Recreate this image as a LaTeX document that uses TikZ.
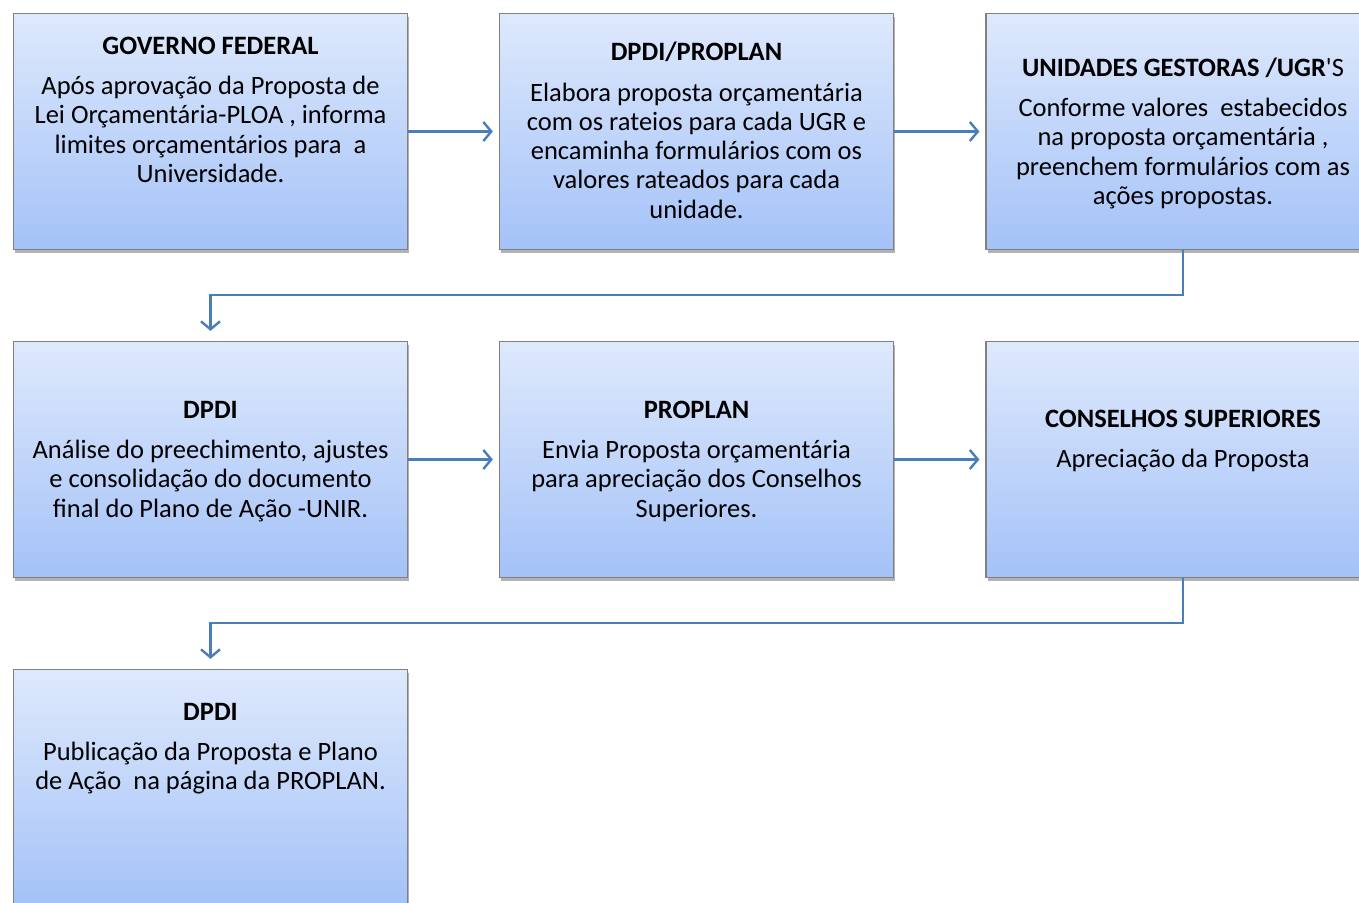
\documentclass[tikz,border=0pt]{standalone}
\usepackage{fontspec}
\setmainfont{Carlito}
\newfontfamily\plainfont{Carlito}[Ligatures=TeXOff]
\usetikzlibrary{shadows,arrows.meta}
\definecolor{boxtop}{RGB}{222,233,252}
\definecolor{boxbot}{RGB}{164,194,248}
\definecolor{edgegray}{RGB}{128,128,128}
\definecolor{conncol}{RGB}{74,126,187}
\tikzset{
  stepbox/.style={draw=edgegray, line width=1.2pt, top color=boxtop, bottom color=boxbot,
    minimum width=394pt, minimum height=236pt, inner sep=0pt,
    drop shadow={shadow xshift=1.5pt, shadow yshift=-3pt, opacity=0.3, fill=black}},
  txt/.style={font=\fontsize{26.5}{29.3}\selectfont, align=center, anchor=base, inner sep=0pt},
  conn/.style={draw=conncol, line width=2.4pt,
    -{Straight Barb[length=8pt, width=19pt, line width=2.4pt]}},
}
\begin{document}
\begin{tikzpicture}[x=1pt, y=-1pt]
\useasboundingbox (0,0) rectangle (1359,902);
% boxes
\node[stepbox] (b1) at (210.5,131.5) {};
\node[stepbox] (b2) at (696.5,131.5) {};
\node[stepbox] (b3) at (1183,131.5) {};
\node[stepbox] (b4) at (210.5,459.5) {};
\node[stepbox] (b5) at (696.5,459.5) {};
\node[stepbox] (b6) at (1183,459.5) {};
\node[stepbox] (b7) at (210.5,787.5) {};
% texts (anchored at the baseline of their last line)
\node[txt] (t1) at (210.5,182.4) {\textbf{GOVERNO FEDERAL}\\[11.2pt]
  Após aprovação da Proposta de\\ Lei Orçamentária-PLOA , informa\\ limites orçamentários para\ \ a\\ Universidade.};
\node[txt] (t2) at (696.5,218.2) {\textbf{DPDI/PROPLAN}\\[11.2pt]
  Elabora proposta orçamentária\\ com os rateios para cada UGR e\\ encaminha formulários com os\\ valores rateados para cada\\ unidade.};
\node[txt] (t3) at (1183,204.4) {\textbf{UNIDADES GESTORAS /UGR}{\plainfont 'S}\\[11.2pt]
  Conforme valores\ \ estabecidos\\ na proposta orçamentária ,\\ preenchem formulários com as\\ ações propostas.};
\node[txt] (t4) at (210.5,517.1) {\textbf{DPDI}\\[11.2pt]
  Análise do preechimento, ajustes\\ e consolidação do documento\\ final do Plano de Ação -UNIR.};
\node[txt] (t5) at (696.5,517.1) {\textbf{PROPLAN}\\[11.2pt]
  Envia Proposta orçamentária\\ para apreciação dos Conselhos\\ Superiores.};
\node[txt] (t6) at (1183,467.5) {\textbf{CONSELHOS SUPERIORES}\\[11.2pt]
  Apreciação da Proposta};
\node[txt] (t7) at (210.5,789.8) {\textbf{DPDI}\\[11.2pt]
  Publicação da Proposta e Plano\\ de Ação\ \ na página da PROPLAN.};
% connectors
\draw[conn, shorten >=6pt] (b1) -- (b2);
\draw[conn, shorten >=6pt] (b2) -- (b3);
\draw[conn, shorten >=6pt] (b4) -- (b5);
\draw[conn, shorten >=6pt] (b5) -- (b6);
\draw[conn, shorten >=10pt] (b3.south) -- ++(0,45) -| (b4.north);
\draw[conn, shorten >=10pt] (b6.south) -- ++(0,45) -| (b7.north);
\end{tikzpicture}
\end{document}
